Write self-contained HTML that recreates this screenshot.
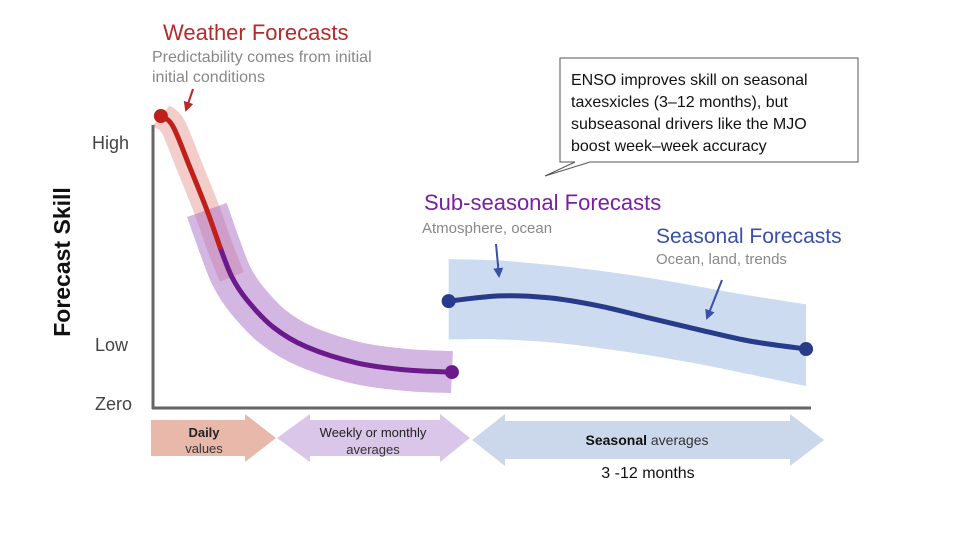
<!DOCTYPE html>
<html><head><meta charset="utf-8"><style>
html,body{margin:0;padding:0;background:#fff;}
svg{display:block;font-family:"Liberation Sans",sans-serif;}
</style></head><body>
<svg id="chart" width="959" height="548" viewBox="0 0 959 548">
<defs>
<marker id="arR" viewBox="0 0 10 10" refX="8" refY="5" markerWidth="5" markerHeight="5" orient="auto"><path d="M0,0L10,5L0,10z" fill="#b52a2a"/></marker>
<marker id="arB" viewBox="0 0 10 10" refX="8" refY="5" markerWidth="5" markerHeight="5" orient="auto"><path d="M0,0L10,5L0,10z" fill="#3a4fa8"/></marker>
</defs>
<g id="bands"></g>
<g id="lines"></g>
<line x1="153" y1="125" x2="153" y2="409" stroke="#666" stroke-width="3"/>
<line x1="152" y1="408" x2="811" y2="408" stroke="#666" stroke-width="3"/>
<text x="92" y="149" font-size="18" fill="#444">High</text>
<text x="95" y="351" font-size="18" fill="#444">Low</text>
<text x="95" y="410" font-size="18" fill="#444">Zero</text>
<text transform="translate(70,262) rotate(-90)" text-anchor="middle" font-size="23" font-weight="bold" fill="#111">Forecast Skill</text>
<text x="163" y="40" font-size="22" fill="#b52a2a">Weather Forecasts</text>
<text x="152" y="62" font-size="16" fill="#888">Predictability comes from initial</text>
<text x="152" y="82" font-size="16" fill="#888">initial conditions</text>
<line x1="193" y1="89" x2="186" y2="110" stroke="#b52a2a" stroke-width="2" marker-end="url(#arR)"/>
<g>
<path d="M560,58 H858 V162 H590 L545,176 L575,162 H560 Z" fill="#fff" stroke="#555" stroke-width="1"/>
<text x="571" y="85" font-size="16" fill="#111">ENSO improves skill on seasonal</text>
<text x="571" y="107" font-size="16" fill="#111">taxesxicles (3–12 months), but</text>
<text x="571" y="129" font-size="16" fill="#111">subseasonal drivers like the MJO</text>
<text x="571" y="151" font-size="16" fill="#111">boost week–week accuracy</text>
</g>
<text x="424" y="210" font-size="22" fill="#7a1fa0">Sub-seasonal Forecasts</text>
<text x="422" y="233" font-size="15" fill="#888">Atmosphere, ocean</text>
<line x1="496" y1="244" x2="499" y2="276" stroke="#3a4fa8" stroke-width="2" marker-end="url(#arB)"/>
<text x="656" y="243" font-size="21" fill="#3a4fa8">Seasonal Forecasts</text>
<text x="656" y="264" font-size="15" fill="#888">Ocean, land, trends</text>
<line x1="722" y1="280" x2="707" y2="318" stroke="#3a4fa8" stroke-width="2" marker-end="url(#arB)"/>
<g>
<path d="M151,420 H245 V414 L276,438 L245,462 V456 H151 Z" fill="#e8b8aa"/>
<text x="204" y="437" text-anchor="middle" font-size="13" font-weight="bold" fill="#222">Daily</text>
<text x="204" y="453" text-anchor="middle" font-size="13" fill="#333">values</text>
</g>
<g>
<path d="M277,438 L310,414 V420 H440 V414 L470,438 L440,462 V456 H310 V462 Z" fill="#d9c6e8"/>
<text x="373" y="437" text-anchor="middle" font-size="13" fill="#222">Weekly or monthly</text>
<text x="373" y="454" text-anchor="middle" font-size="13" fill="#333">averages</text>
</g>
<g>
<path d="M472,440 L505,414 V421 H790 V414 L824,440 L790,466 V459 H505 V466 Z" fill="#cbd8ec"/>
<text x="647" y="445" text-anchor="middle" font-size="14" fill="#333"><tspan font-weight="bold" fill="#111">Seasonal</tspan> averages</text>
<text x="648" y="478" text-anchor="middle" font-size="16" fill="#111">3 -12 months</text>
</g>
</svg>
<script>
const weatherT=[1.2,3.0,5.6,8.2,10.2,12.0,14.3,18.3,23.4,31.1,38.7,45.5];
const weatherSkill=[1.0,0.966,0.825,0.678,0.551,0.449,0.370,0.277,0.209,0.154,0.130,0.123];
const redCount=5;
const purpleBandStart=3;
const purpleLineStart=4;
const seasonalT=[45,52.8,60.4,68,75.6,83.3,90.9,99.4];
const seasonalSkill=[0.366,0.384,0.377,0.349,0.308,0.267,0.229,0.202];
const seasonalUpper=[0.51,0.505,0.49,0.47,0.445,0.415,0.385,0.355];
const seasonalLower=[0.235,0.235,0.225,0.205,0.18,0.15,0.115,0.075];

const NS="http://www.w3.org/2000/svg";
const xs=t=>153+t/100*657;
const ys=v=>408-v*292;
function seg(pts){let d="";
 for(let i=0;i<pts.length-1;i++){const p0=pts[i-1]||pts[i],p1=pts[i],p2=pts[i+1],p3=pts[i+2]||p2;
 d+=" C"+(p1[0]+(p2[0]-p0[0])/6)+","+(p1[1]+(p2[1]-p0[1])/6)+" "+(p2[0]-(p3[0]-p1[0])/6)+","+(p2[1]-(p3[1]-p1[1])/6)+" "+p2[0]+","+p2[1];}
 return d;}
function smooth(pts){return "M"+pts[0][0]+","+pts[0][1]+seg(pts);}
function bandUL(T,U,L,fill,name){const up=T.map((t,i)=>[xs(t),ys(U[i])]);const lo=T.map((t,i)=>[xs(t),ys(L[i])]).reverse();
 const p=document.createElementNS(NS,"path");
 p.setAttribute("d",smooth(up)+" L"+lo[0][0]+","+lo[0][1]+seg(lo)+"Z");
 p.setAttribute("fill",fill);
 
 
 document.getElementById("bands").appendChild(p);}
function line(T,V,color,w,name,cap,parent){const pts=T.map((t,i)=>[xs(t),ys(V[i])]);
 const p=document.createElementNS(NS,"path");p.setAttribute("d",smooth(pts));p.setAttribute("fill","none");
 p.setAttribute("stroke",color);p.setAttribute("stroke-width",w);p.setAttribute("stroke-linecap",cap||"round");
 
 
 document.getElementById(parent||"lines").appendChild(p);}
function dot(t,v,color,name){const c=document.createElementNS(NS,"circle");c.setAttribute("cx",xs(t));c.setAttribute("cy",ys(v));c.setAttribute("r",7);c.setAttribute("fill",color);
 
 
 document.getElementById("lines").appendChild(c);}
bandUL(seasonalT,seasonalUpper,seasonalLower,"rgba(170,195,228,0.6)","seasonal-band");
line(weatherT.slice(0,redCount+1),weatherSkill.slice(0,redCount+1),"rgba(225,130,120,0.4)",26,"weather-band","butt","bands");
line(weatherT.slice(purpleBandStart),weatherSkill.slice(purpleBandStart),"rgba(170,110,200,0.5)",42,"subseasonal-band","butt","bands");
line(weatherT.slice(purpleLineStart),weatherSkill.slice(purpleLineStart),"#6a1a8a",5,"subseasonal-line");
line(weatherT.slice(0,redCount),weatherSkill.slice(0,redCount),"#c0201c",5,"weather-line");
line(seasonalT,seasonalSkill,"#283a8a",5,"seasonal-line");
dot(weatherT[0],weatherSkill[0],"#c0201c","weather-start-point");
dot(weatherT[weatherT.length-1],weatherSkill[weatherSkill.length-1],"#6a1a8a","subseasonal-end-point");
dot(seasonalT[0],seasonalSkill[0],"#283a8a","seasonal-start-point");
dot(seasonalT[seasonalT.length-1],seasonalSkill[seasonalSkill.length-1],"#283a8a","seasonal-end-point");
</script>
</body></html>
